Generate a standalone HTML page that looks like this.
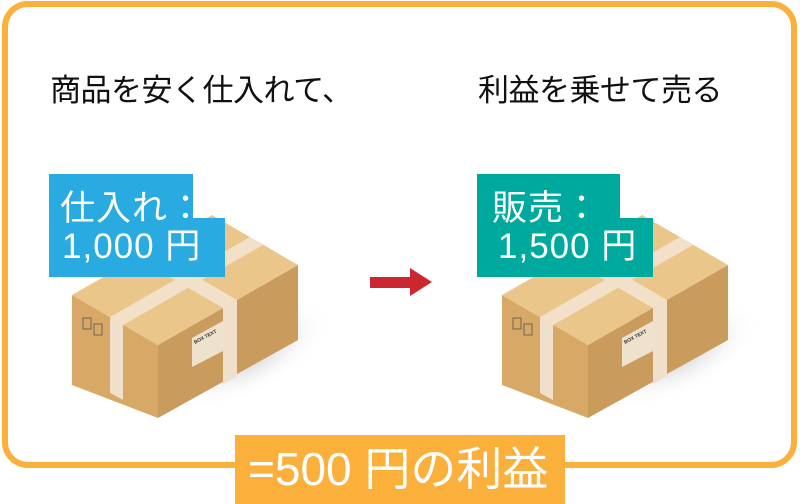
<!DOCTYPE html>
<html><head><meta charset="utf-8"><style>
html,body{margin:0;padding:0;background:#fff}
body{width:800px;height:504px;position:relative;overflow:hidden;font-family:"Liberation Sans","Noto Sans CJK JP",sans-serif}
.frame{position:absolute;left:2px;top:1px;width:783px;height:455px;border:6px solid #fbb03b;border-radius:26px}
.t{position:absolute;font-size:31px;color:#111;line-height:1;white-space:nowrap;letter-spacing:-0.5px}
.lb{position:absolute;color:#fff;font-size:35px;line-height:1;white-space:nowrap;letter-spacing:1px}
.bg{position:absolute}
svg{position:absolute;left:0;top:0}
</style></head><body>
<div class="frame"></div>
<div class="t" style="left:50px;top:75px">商品を安く仕入れて、</div>
<div class="t" style="left:478px;top:75px">利益を乗せて売る</div>

<svg width="800" height="504">
<defs>
<radialGradient id="sh" cx="0.5" cy="0.5" r="0.5"><stop offset="0" stop-color="#bdb8b8" stop-opacity="0.8"/><stop offset="1" stop-color="#fff" stop-opacity="0"/></radialGradient>
<g id="box">
<ellipse cx="250" cy="355" rx="90" ry="38" fill="url(#sh)" transform="rotate(-28 250 355)"/>
<polygon points="72,295 158,345 158,418 72,385" fill="#d8a867"/>
<polygon points="158,345 298,265 298,340 158,418" fill="#c99b5d"/>
<polygon points="72,295 212,215 298,265 158,345" fill="#ebc68a"/>
<polygon points="110,317 123,325 263,245 250,237" fill="#f2e1c8"/>
<polygon points="223,308 237,300 151,250 137,258" fill="#f2e1c8"/>
<polygon points="110,317 123,325 123,400 110,393" fill="#f0e0cb"/>
<polygon points="223,308 237,300 237,376 223,384" fill="#f0e0cb"/>
<polygon points="192,338 223,321 223,351 192,367" fill="#efe2cc"/>
<text x="195" y="344" font-size="5" fill="#333" transform="rotate(-28 195 344)" font-family="Liberation Sans" font-weight="bold">BOX TEXT</text>
<rect x="83" y="318" width="8" height="11" fill="none" stroke="#555" stroke-width="0.8"/>
<rect x="94" y="324" width="8" height="11" fill="none" stroke="#555" stroke-width="0.8"/>
</g>
</defs>
<use href="#box"/>
<use href="#box" x="430"/>
<polygon points="370,277 410,277 410,268 432,282 410,296 410,288 370,288" fill="#cc2631"/>
</svg>

<div class="bg" style="left:49px;top:174px;width:144px;height:44px;background:#29abe2"></div>
<div class="bg" style="left:49px;top:218px;width:176px;height:59px;background:#29abe2"></div>
<div class="lb" style="left:60px;top:191px">仕入れ：</div>
<div class="lb" style="left:62px;top:229px">1,000 円</div>

<div class="bg" style="left:477px;top:174px;width:143px;height:44px;background:#00a99d"></div>
<div class="bg" style="left:477px;top:218px;width:176px;height:59px;background:#00a99d"></div>
<div class="lb" style="left:492px;top:191px">販売：</div>
<div class="lb" style="left:498px;top:229px">1,500 円</div>

<div class="bg" style="left:235px;top:435px;width:330px;height:69px;background:#fbb03b"></div>
<div class="lb" style="left:248px;top:446px;font-size:46px;letter-spacing:0">=500 円の利益</div>
</body></html>
